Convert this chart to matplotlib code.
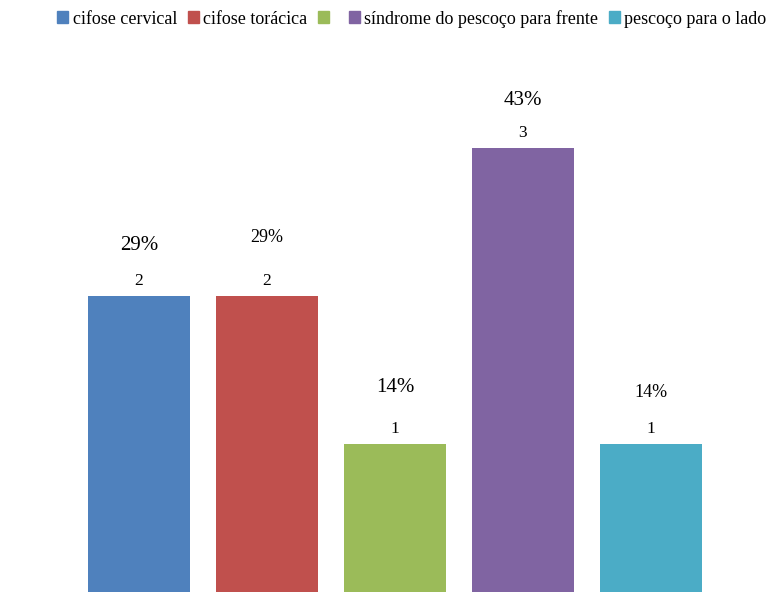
import matplotlib
matplotlib.use('Agg')
import matplotlib.pyplot as plt
from matplotlib.patches import Patch

categories = ['cifose cervical', 'cifose torácica', ' ', 'síndrome do pescoço para frente', 'pescoço para o lado']
counts = [2, 2, 1, 3, 1]
pct_labels = ['29%', '29%', '14%', '43%', '14%']
colors = ['#4F81BD', '#C0504D', '#9BBB59', '#8064A2', '#4BACC6']
# percentage labels differ a bit in size/offset in the original
pct_sizes = [15, 13, 15, 15, 13]
pct_offsets = [0.34, 0.395, 0.38, 0.32, 0.35]

plt.rcParams['font.family'] = ['Liberation Serif', 'DejaVu Serif']

fig = plt.figure(figsize=(7.7, 5.92), dpi=100)
ax = fig.add_axes([0, 0, 1, 1])
x = list(range(len(counts)))
ax.bar(x, counts, width=0.797, color=colors)

for xi, c, p, s, o in zip(x, counts, pct_labels, pct_sizes, pct_offsets):
    ax.text(xi, c + 0.1, str(c), ha='center', va='center', fontsize=12.5)
    ax.text(xi, c + o, p, ha='center', va='center', fontsize=s)

ax.set_xlim(-1.086, 4.93)
ax.set_ylim(0, 4.0)
ax.axis('off')

handles = [Patch(color=col) for col in colors]
fig.legend(handles, categories, loc='upper center', bbox_to_anchor=(0.535, 1.005),
           ncol=5, frameon=False, fontsize=13, handlelength=0.6, handleheight=0.6,
           handletextpad=0.25, columnspacing=0.6, borderaxespad=0.3)

fig.savefig('out.png', dpi=100)
